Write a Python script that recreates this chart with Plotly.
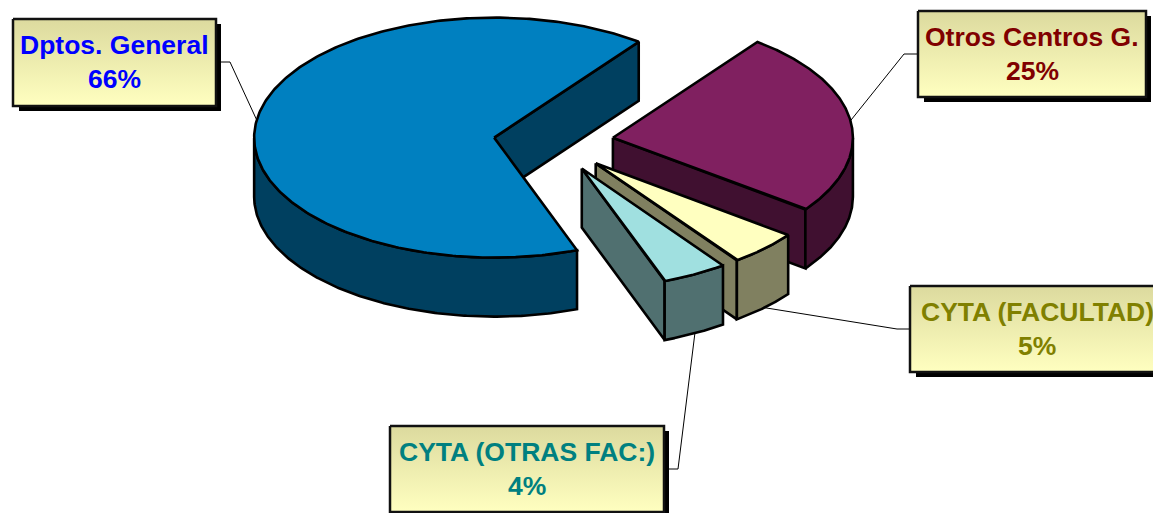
import numpy as np
import plotly.graph_objects as go

# shares, labels show them rounded; back slice first
slice_names = ["Dptos. General", "Otros Centros G.", "CYTA (FACULTAD)", "CYTA (OTRAS FAC:)"]
slice_shares = [65.9, 24.9, 4.8, 4.4]
top_colors = ["#0080C0", "#802060", "#FFFFC0", "#A0E0E0"]
wall_colors = ["#004060", "#401030", "#808060", "#507070"]
label_colors = ["#0000FF", "#800000", "#808000", "#008080"]

# label boxes: left, top, right, bottom in page pixels
label_boxes = [(13, 19, 216, 106), (918, 11, 1146, 97), (910, 286, 1164, 372), (390, 426, 664, 512)]
# leader line elbow, and where it leaves the box
leader_elbows = [(230, 62), (904, 54), (897, 329), (678, 469)]
leader_starts = [(216, 62), (918, 54), (910, 329), (664, 469)]

# pie projection
CX, CY = 553.5, 142
RX, RY = 240, 120
DEPTH = 59
EXPLODE = 60
START_ANGLE = -69.8  # degrees, where the first slice begins, going clockwise


def ring(t, ox, oy, drop=0.0):
    return ox + RX * np.cos(t), oy - RY * np.sin(t) + drop


def poly(xs, ys, fill, width=2.6):
    return go.Scatter(x=list(xs), y=list(ys), mode="lines", fill="toself", fillcolor=fill,
                      line=dict(color="black", width=width), hoverinfo="skip", showlegend=False)


fig = go.Figure()
geom = []
a_hi = np.radians(START_ANGLE)
for share in slice_shares:
    a_lo = a_hi - np.radians(share * 3.6)
    mid = (a_lo + a_hi) / 2
    ox = CX + EXPLODE * np.cos(mid)
    oy = CY - EXPLODE * np.sin(mid) * RY / RX
    geom.append((a_lo, a_hi, mid, ox, oy))
    a_hi = a_lo

# leader lines go under everything
for (a0, a1, mid, ox, oy), start, elbow in zip(geom, leader_starts, leader_elbows):
    ex, ey = ring(mid, ox, oy, DEPTH if np.sin(mid) < -0.3 else 0)
    fig.add_trace(go.Scatter(x=[start[0], elbow[0], ex], y=[start[1], elbow[1], ey], mode="lines",
                             line=dict(color="black", width=1), hoverinfo="skip", showlegend=False))

for i, (a0, a1, mid, ox, oy) in enumerate(geom):
    # flat cut faces that look towards the viewer
    for edge, visible in ((a0, np.cos(a0) > 0), (a1, np.cos(a1) < 0)):
        if visible:
            ex, ey = ring(edge, ox, oy)
            fig.add_trace(poly([ox, ex, ex, ox, ox], [oy, ey, ey + DEPTH, oy + DEPTH, oy], wall_colors[i]))
    # outer curved wall, only the front half of the rim
    t = np.linspace(a0, a1, 400)
    t = t[np.sin(t) <= 0]
    if len(t):
        xs, ys = ring(t, ox, oy)
        xb, yb = ring(t[::-1], ox, oy, DEPTH)
        fig.add_trace(poly(np.r_[xs, xb, xs[0]], np.r_[ys, yb, ys[0]], wall_colors[i]))
    # top face
    t = np.linspace(a0, a1, 300)
    xs, ys = ring(t, ox, oy)
    fig.add_trace(poly(np.r_[ox, xs, ox], np.r_[oy, ys, oy], top_colors[i]))

annotations = []
for name, share, color, (l, t, r, b) in zip(slice_names, slice_shares, label_colors, label_boxes):
    # drop shadow
    fig.add_trace(go.Scatter(x=[l + 6, r + 5, r + 5, l + 6, l + 6], y=[t + 5, t + 5, b + 5, b + 5, t + 5],
                             mode="lines", fill="toself", fillcolor="black", line=dict(color="black", width=0),
                             hoverinfo="skip", showlegend=False))
    fig.add_trace(go.Scatter(x=[l, r, r, l, l], y=[t, t, b, b, t], mode="lines", fill="toself",
                             fillgradient=dict(type="vertical", colorscale=[[0, "#FFFFC0"], [1, "#DCDA9E"]]),
                             line=dict(color="#111111", width=2.5), hoverinfo="skip", showlegend=False))
    for text, off in ((name, 26), (f"{round(share)}%", 60)):
        annotations.append(dict(x=(l + r) / 2, y=t + off, text=f"<b>{text}</b>", showarrow=False,
                                xref="x", yref="y", font=dict(family="Liberation Sans", size=26.5, color=color)))

fig.update_layout(
    width=1153, height=513,
    margin=dict(l=0, r=0, t=0, b=0),
    paper_bgcolor="white", plot_bgcolor="white",
    showlegend=False,
    annotations=annotations,
    xaxis=dict(range=[0, 1153], visible=False, fixedrange=True),
    yaxis=dict(range=[513, 0], visible=False, fixedrange=True),
)

fig.write_html("out.html", config=dict(displayModeBar=False),
               post_script="document.body.style.margin='0';")
